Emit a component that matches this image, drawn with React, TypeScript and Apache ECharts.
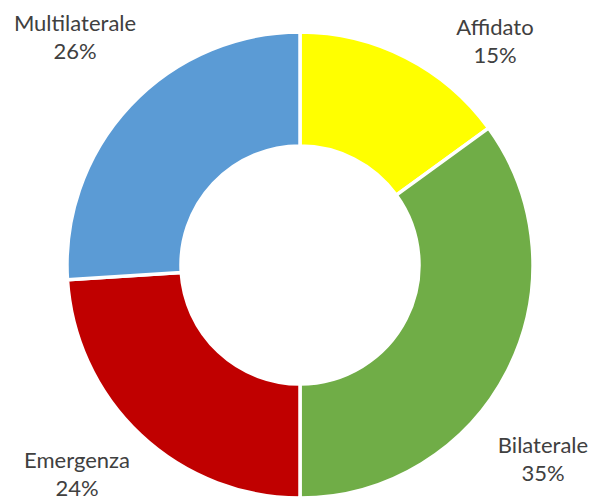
import React, { useEffect, useRef } from "react";
import * as echarts from "echarts";

const categories = ["Affidato", "Bilaterale", "Emergenza", "Multilaterale"];
const values = [15, 35, 24, 26];
const colors = ["#FFFF00", "#70AD47", "#C00000", "#5B9BD5"];

// label anchor positions (layout only)
const labelPos: [number, number][] = [
  [495, 40],
  [543, 458],
  [77, 473],
  [75, 36],
];

export default function App() {
  const ref = useRef<HTMLDivElement>(null);
  useEffect(() => {
    document.body.style.margin = "0";
    const chart = echarts.init(ref.current!, null, { renderer: "svg" });
    chart.setOption({
      animation: false,
      backgroundColor: "#ffffff",
      series: [
        {
          type: "pie",
          center: [300, 265],
          radius: [119, 233],
          startAngle: 90,
          clockwise: true,
          avoidLabelOverlap: false,
          percentPrecision: 0,
          itemStyle: { borderColor: "#ffffff", borderWidth: 3.5 },
          label: {
            show: true,
            position: "outside",
            formatter: "{b}\n{d}%",
            fontFamily: "Lato",
            fontSize: 22,
            lineHeight: 28,
            color: "#404040",
            align: "center",
          },
          labelLine: { show: false },
          labelLayout: (params: any) => {
            const p = labelPos[params.dataIndex];
            return { x: p[0], y: p[1], align: "center", verticalAlign: "middle" };
          },
          emphasis: { disabled: true },
          data: categories.map((name, i) => ({
            name,
            value: values[i],
            itemStyle: { color: colors[i] },
          })),
        },
      ],
    });
    return () => chart.dispose();
  }, []);
  return <div ref={ref} style={{ width: 592, height: 502 }} />;
}
